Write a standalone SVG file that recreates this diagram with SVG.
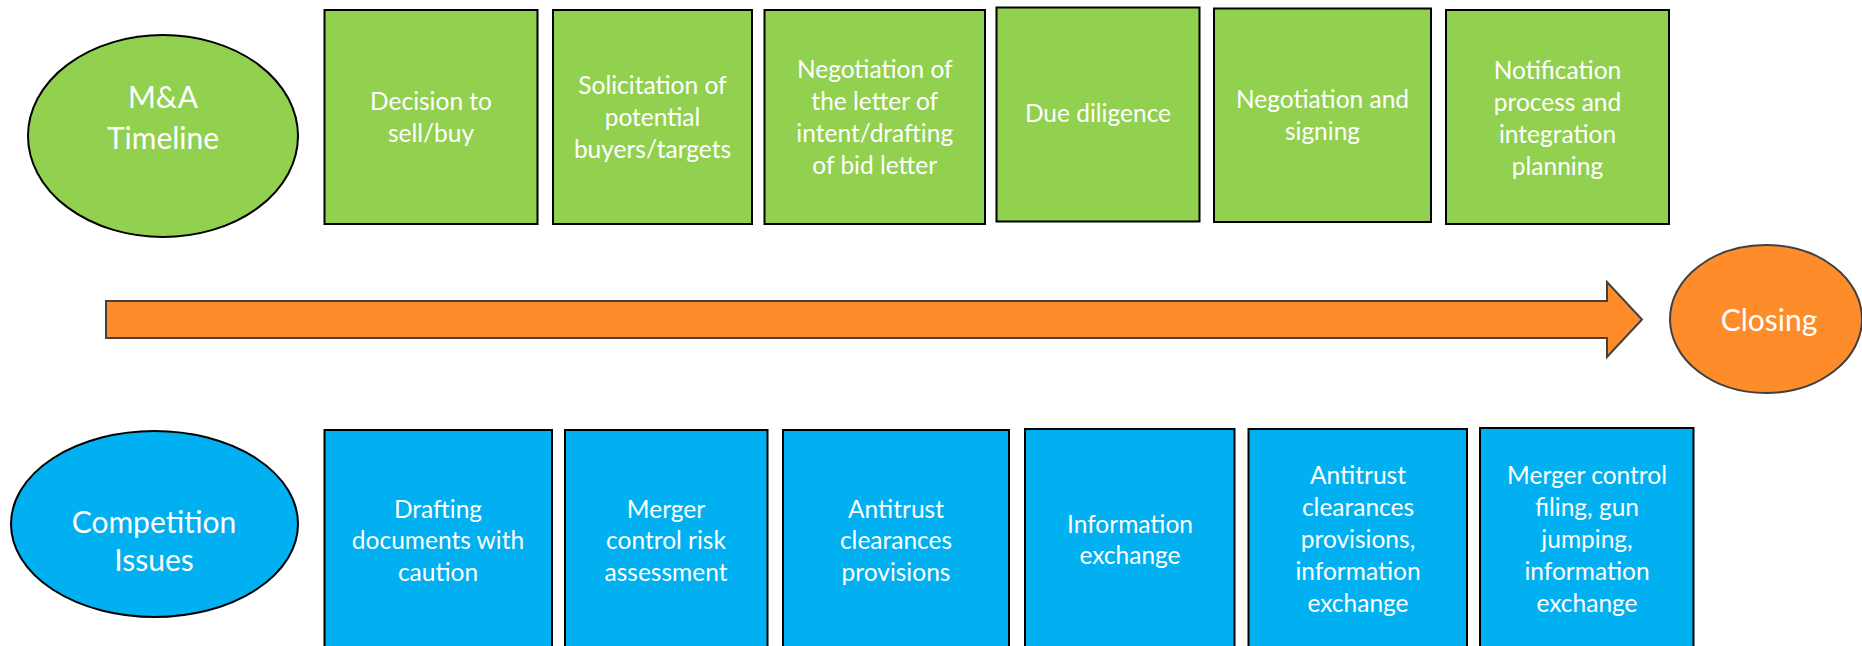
<svg xmlns="http://www.w3.org/2000/svg" width="1862" height="646" viewBox="0 0 1862 646">
  <style>
    .green { fill: #92D050; stroke: #000; stroke-width: 2; }
    .blue { fill: #00B0F0; stroke: #000; stroke-width: 2; }
    .orange { fill: #FF8C2B; stroke: #404040; stroke-width: 2; }
    .t { font-family: Lato, "Liberation Sans", sans-serif; font-size: 24.5px; fill: #fff; text-anchor: middle; }
    .big { font-family: Lato, "Liberation Sans", sans-serif; font-size: 30px; fill: #fff; text-anchor: middle; }
  </style>
  <rect width="1862" height="646" fill="#fff"/>

  <g id="connectors">
    <polygon class="orange" points="106,301 1607,301 1607,282 1642,319.5 1607,357 1607,338 106,338"/>
  </g>

  <g id="ma-timeline">
    <ellipse class="green" cx="163" cy="136" rx="135" ry="101"/>
    <text class="big"><tspan x="163" y="108">M&amp;A</tspan><tspan x="163" y="149">Timeline</tspan></text>
  </g>

  <g id="decision">
    <rect class="green" x="324.5" y="10" width="213" height="214"/>
    <text class="t"><tspan x="431" y="110">Decision to</tspan><tspan x="431" y="142">sell/buy</tspan></text>
  </g>
  <g id="solicitation">
    <rect class="green" x="553" y="10" width="199" height="214"/>
    <text class="t"><tspan x="652.5" y="94">Solicitation of</tspan><tspan x="652.5" y="126">potential</tspan><tspan x="652.5" y="158">buyers/targets</tspan></text>
  </g>
  <g id="loi">
    <rect class="green" x="764.5" y="10" width="220.5" height="214"/>
    <text class="t"><tspan x="874.75" y="78">Negotiation of</tspan><tspan x="874.75" y="110">the letter of</tspan><tspan x="874.75" y="142">intent/drafting</tspan><tspan x="874.75" y="174">of bid letter</tspan></text>
  </g>
  <g id="due-diligence">
    <rect class="green" x="996.5" y="7.5" width="203" height="214"/>
    <text class="t"><tspan x="1098" y="122">Due diligence</tspan></text>
  </g>
  <g id="signing">
    <rect class="green" x="1214" y="8.5" width="217" height="213.5"/>
    <text class="t"><tspan x="1322.5" y="108">Negotiation and</tspan><tspan x="1322.5" y="140">signing</tspan></text>
  </g>
  <g id="notification">
    <rect class="green" x="1446" y="10" width="223" height="214"/>
    <text class="t"><tspan x="1557.5" y="79">Notification</tspan><tspan x="1557.5" y="111">process and</tspan><tspan x="1557.5" y="143">integration</tspan><tspan x="1557.5" y="175">planning</tspan></text>
  </g>

  <g id="closing">
    <ellipse class="orange" cx="1766" cy="319" rx="96" ry="74"/>
    <text class="big"><tspan x="1769" y="331">Closing</tspan></text>
  </g>

  <g id="competition-issues">
    <ellipse class="blue" cx="154.5" cy="524" rx="143.5" ry="93"/>
    <text class="big"><tspan x="154" y="533">Competition</tspan><tspan x="154" y="571">Issues</tspan></text>
  </g>

  <g id="drafting">
    <rect class="blue" x="324.5" y="430" width="227.5" height="240"/>
    <text class="t"><tspan x="438" y="518">Drafting</tspan><tspan x="438" y="549">documents with</tspan><tspan x="438" y="581">caution</tspan></text>
  </g>
  <g id="risk-assessment">
    <rect class="blue" x="565" y="430" width="202.5" height="240"/>
    <text class="t"><tspan x="666" y="518">Merger</tspan><tspan x="666" y="549">control risk</tspan><tspan x="666" y="581">assessment</tspan></text>
  </g>
  <g id="clearances">
    <rect class="blue" x="783" y="430" width="226" height="240"/>
    <text class="t"><tspan x="896" y="518">Antitrust</tspan><tspan x="896" y="549">clearances</tspan><tspan x="896" y="581">provisions</tspan></text>
  </g>
  <g id="info-exchange">
    <rect class="blue" x="1025" y="429" width="209.5" height="240"/>
    <text class="t"><tspan x="1130" y="533">Information</tspan><tspan x="1130" y="564">exchange</tspan></text>
  </g>
  <g id="clearances-info">
    <rect class="blue" x="1248.5" y="429" width="218.5" height="240"/>
    <text class="t"><tspan x="1358" y="484">Antitrust</tspan><tspan x="1358" y="516">clearances</tspan><tspan x="1358" y="548">provisions,</tspan><tspan x="1358" y="580">information</tspan><tspan x="1358" y="612">exchange</tspan></text>
  </g>
  <g id="filing">
    <rect class="blue" x="1480" y="428" width="213.5" height="240"/>
    <text class="t"><tspan x="1587" y="484">Merger control</tspan><tspan x="1587" y="516">filing, gun</tspan><tspan x="1587" y="548">jumping,</tspan><tspan x="1587" y="580">information</tspan><tspan x="1587" y="612">exchange</tspan></text>
  </g>
</svg>
